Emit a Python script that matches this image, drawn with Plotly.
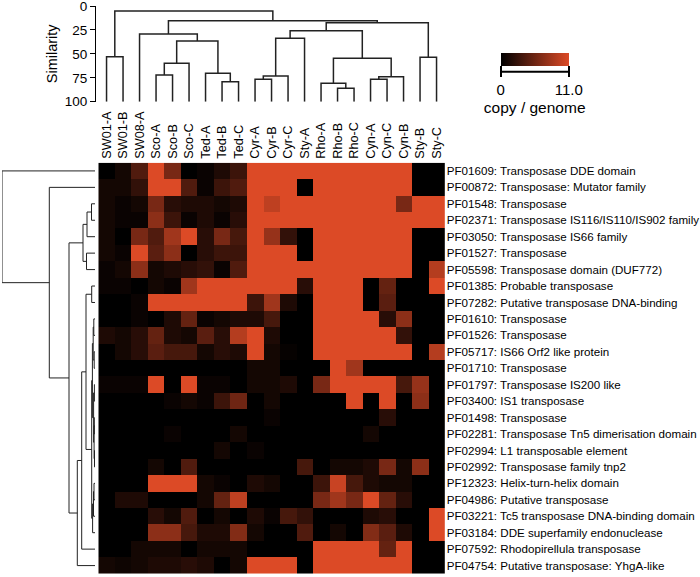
import plotly.graph_objects as go

W, H = 700, 577

columns = ["SW01-A", "SW01-B", "SW08-A", "Sco-A", "Sco-B", "Sco-C", "Ted-A", "Ted-B", "Ted-C",
           "Cyr-A", "Cyr-B", "Cyr-C", "Sty-A", "Rho-A", "Rho-B", "Rho-C", "Cyn-A", "Cyn-C", "Cyn-B",
           "Sty-B", "Sty-C"]

rows = ["PF01609: Transposase DDE domain",
        "PF00872: Transposase: Mutator family",
        "PF01548: Transposase",
        "PF02371: Transposase IS116/IS110/IS902 family",
        "PF03050: Transposase IS66 family",
        "PF01527: Transposase",
        "PF05598: Transposase domain (DUF772)",
        "PF01385: Probable transposase",
        "PF07282: Putative transposase DNA-binding",
        "PF01610: Transposase",
        "PF01526: Transposase",
        "PF05717: IS66 Orf2 like protein",
        "PF01710: Transposase",
        "PF01797: Transposase IS200 like",
        "PF03400: IS1 transposase",
        "PF01498: Transposase",
        "PF02281: Transposase Tn5 dimerisation domain",
        "PF02994: L1 transposable element",
        "PF02992: Transposase family tnp2",
        "PF12323: Helix-turn-helix domain",
        "PF04986: Putative transposase",
        "PF03221: Tc5 transposase DNA-binding domain",
        "PF03184: DDE superfamily endonuclease",
        "PF07592: Rhodopirellula transposase",
        "PF04754: Putative transposase: YhgA-like"]

# copy / genome values (rows x columns)
copies = [
    [0, 1, 4, 11, 6, 0, 0.5, 1.5, 3, 11, 11, 11, 11, 11, 11, 11, 11, 11, 11, 0, 0],
    [1, 1, 2.5, 11, 11, 4, 0.5, 3, 4, 11, 11, 11, 0, 11, 11, 11, 11, 11, 11, 0, 0],
    [1, 0.5, 1, 6, 2, 1.5, 1.5, 1, 1.5, 11, 9.5, 11, 11, 11, 11, 11, 11, 11, 6, 11, 11],
    [1, 0.5, 0.5, 7, 3, 0.5, 1.5, 0.5, 2, 11, 11, 11, 11, 11, 11, 11, 11, 11, 11, 11, 11],
    [1, 0, 6, 4, 8, 11, 2, 6, 3.5, 11, 7.5, 2.5, 0, 11, 11, 11, 11, 11, 11, 0, 0],
    [1, 0.5, 11, 4.5, 7, 0, 2, 3, 3, 11, 11, 11, 0, 11, 11, 11, 11, 11, 11, 0, 0],
    [0.5, 1, 7, 1, 1.5, 2, 2.5, 0.5, 4, 11, 11, 11, 11, 11, 11, 11, 11, 11, 11, 0, 9],
    [0.5, 0.5, 0, 1, 0.5, 8, 11, 11, 11, 11, 11, 11, 2, 11, 11, 11, 0, 5, 0, 0, 11],
    [0, 0, 0.5, 11, 11, 11, 11, 11, 11, 3, 8, 1.5, 0, 11, 11, 11, 0, 4.5, 0, 0, 0],
    [0, 0, 0.5, 0, 1.5, 5, 0.5, 1, 1.5, 1.5, 3.5, 0, 0, 11, 11, 11, 11, 2, 7, 0, 0],
    [1.5, 1, 2, 5, 1.5, 1, 4.5, 2, 9, 11, 1.5, 0, 0, 11, 11, 11, 11, 11, 2.5, 0, 0],
    [0, 1, 2, 4.5, 3.5, 3.5, 1, 2, 1.5, 11, 1, 0.3, 0, 11, 11, 11, 11, 11, 11, 0, 9],
    [0, 0, 0, 0, 0, 0, 0, 0, 0, 1, 1, 0, 0, 0, 11, 8, 0, 0, 0, 0, 0],
    [0.5, 0.5, 0.5, 11, 0, 11, 0.5, 0.5, 0, 1, 1, 1.5, 0, 6, 11, 11, 11, 11, 3.5, 7.5, 0],
    [0, 0, 0, 0, 0.5, 1, 0.5, 3, 5.5, 0, 1, 0, 0, 0, 0, 11, 0, 11, 0, 7, 0],
    [0, 0, 0, 0, 0, 0, 0, 0, 0, 0, 0.5, 0, 0, 0, 0, 0, 0, 2, 0, 0, 0],
    [0, 0, 0, 0, 0.5, 0, 0, 0, 1, 0, 0, 0, 0, 0, 0, 0, 1, 0, 0, 0, 0],
    [0, 0, 0, 0, 0, 0, 0, 1, 0, 0.5, 0, 0, 0, 0, 0, 0, 0, 0, 0, 0, 0],
    [0, 0, 0, 1, 0, 4, 0, 0, 0, 0, 0, 0, 3.5, 0, 1, 1, 1.5, 6, 1, 7, 0],
    [0, 0, 0, 11, 11, 11, 1, 0.5, 0, 1.5, 1, 0, 0, 3, 10, 3.5, 1.5, 1, 1, 0, 0],
    [0, 1.5, 1.5, 0, 0, 0, 1, 5, 9.5, 0, 0, 0, 0, 6, 8, 6, 11, 5, 2, 0, 0],
    [0, 0, 0, 2, 1, 4, 0, 1, 0, 1.5, 0.5, 3.5, 2.5, 0, 0, 0, 1.5, 2, 0, 0, 11],
    [0, 0, 0, 7, 7, 3.5, 1.5, 1.5, 6.5, 1, 0, 0, 4, 0, 1, 0, 6.5, 4.5, 1.5, 0, 11],
    [0, 0, 1, 1, 1, 0, 1, 1, 1, 0, 0, 0, 0, 11, 11, 11, 11, 5, 11, 0, 0],
    [1, 0.7, 1, 1.5, 1.5, 2, 1.5, 0, 1, 11, 11, 11, 0, 11, 11, 11, 11, 11, 11, 0, 0],
]

# Column clustering: (left, right, similarity); ints = leaf index, "mN" = earlier merge
col_merges = [
    (0, 1, 53.0),          # m0
    (3, 4, 72.1),          # m1
    ("m1", 5, 59.9),       # m2
    (7, 8, 79.1),          # m3
    (6, "m3", 70.3),       # m4
    ("m2", "m4", 36.6),    # m5
    (2, "m5", 29.3),       # m6
    (9, 10, 76.6),         # m7
    ("m7", 11, 73.1),      # m8
    ("m8", 12, 33.8),      # m9
    (14, 15, 86.0),        # m10
    (13, "m10", 80.8),     # m11
    (16, 17, 76.6),        # m12
    ("m12", 18, 73.9),     # m13
    ("m11", "m13", 54.7),  # m14
    ("m9", "m14", 25.8),   # m15
    (19, 20, 53.6),        # m16
    ("m15", "m16", 17.5),  # m17
    ("m6", "m17", 15.4),   # m18
    ("m0", "m18", 5.2),    # m19
]
col_leaf_height = 100.0

# Row clustering: (top, bottom, distance)
row_merges = [
    (2, 3, 3.5),           # m0
    ("m0", 4, 8.0),        # m1
    (5, 6, 8.5),           # m2
    ("m1", "m2", 12.0),    # m3
    (7, 8, 3.3),           # m4
    (9, 10, 1.2),          # m5
    (11, 12, 0.8),         # m6
    ("m5", "m6", 1.8),     # m7
    (13, 14, 0.6),         # m8
    (15, 16, 0.3),         # m9
    (17, 18, 0.5),         # m10
    ("m9", "m10", 0.9),    # m11
    ("m8", "m11", 1.4),    # m12
    ("m7", "m12", 2.6),    # m13
    (19, 20, 1.0),         # m14
    ("m14", 21, 1.5),      # m15
    ("m15", 22, 2.4),      # m16
    ("m13", "m16", 3.3),   # m17
    ("m4", "m17", 9.0),    # m18
    ("m18", 23, 13.3),     # m19
    ("m19", 24, 17.7),     # m20
    ("m3", "m20", 26.0),   # m21
    (1, "m21", 45.7),      # m22
    (0, "m22", 93.0),      # m23
]
row_leaf_height = 0.0


def dendro_segments(merges, leaf_h):
    pos, hgt = {}, {}
    ps, hs = [], []

    def get(k):
        if isinstance(k, int):
            return float(k), leaf_h
        return pos[k], hgt[k]

    for i, (a, b, h) in enumerate(merges):
        pa, ha = get(a)
        pb, hb = get(b)
        ps += [pa, pa, pb, pb, None]
        hs += [ha, h, h, hb, None]
        pos["m%d" % i] = (pa + pb) / 2
        hgt["m%d" % i] = h
    return ps, hs


FONT = "Liberation Sans, Arial, sans-serif"

def px(x):
    return x / W

def py(y):
    return 1 - y / H

hm_x0, hm_x1 = 98.3, 444.8
hm_y0, hm_y1 = 162.7, 573.8

fig = go.Figure()

fig.add_trace(go.Heatmap(
    z=copies, x=list(range(len(columns))), y=list(range(len(rows))),
    colorscale=[[0, "#000000"], [1, "#DC4A26"]], zmin=0, zmax=11,
    xaxis="x", yaxis="y", hoverinfo="skip",
    colorbar=dict(
        orientation="h", x=px(534.7), xanchor="center", y=py(53.3), yanchor="top",
        lenmode="pixels", len=68, thicknessmode="pixels", thickness=13.4,
        xpad=0, ypad=0, outlinewidth=0,
        tickmode="array", tickvals=[0, 11], ticktext=["0", "11.0"],
        ticks="outside", ticklen=11, tickwidth=1.5, tickcolor="#000",
        tickfont=dict(family=FONT, size=15, color="#000"),
        title=dict(text="copy / genome", side="bottom",
                   font=dict(family=FONT, size=15.5, color="#000")),
    ),
))

cx, cy = dendro_segments(col_merges, col_leaf_height)
fig.add_trace(go.Scatter(x=cx, y=cy, mode="lines", xaxis="x", yaxis="y2",
                         line=dict(color="#222", width=1.5), hoverinfo="skip",
                         showlegend=False))

ry, rx = dendro_segments(row_merges, row_leaf_height)
fig.add_trace(go.Scatter(x=rx, y=ry, mode="lines", xaxis="x2", yaxis="y",
                         line=dict(color="#222", width=1), hoverinfo="skip",
                         showlegend=False))

fig.update_layout(
    width=W, height=H, margin=dict(l=0, r=0, t=0, b=0, autoexpand=False),
    paper_bgcolor="white", plot_bgcolor="rgba(0,0,0,0)", showlegend=False,
    font=dict(family=FONT, color="#000"),
    xaxis=dict(domain=[px(hm_x0), px(hm_x1)], range=[-0.5, len(columns) - 0.5],
               anchor="y", side="top", tickmode="array", automargin=False,
               tickvals=list(range(len(columns))), ticktext=columns, tickangle=-90,
               ticks="", showgrid=False, zeroline=False, showline=False,
               tickfont=dict(family=FONT, size=12.7, color="#000"),
               ticklabelstandoff=3, ticklabeloverflow="allow"),
    yaxis=dict(domain=[py(hm_y1), py(hm_y0)], range=[len(rows) - 0.5, -0.5],
               anchor="x", side="right", tickmode="array", automargin=False,
               tickvals=list(range(len(rows))), ticktext=rows,
               ticks="", showgrid=False, zeroline=False, showline=False,
               tickfont=dict(family=FONT, size=11.6, color="#000"),
               ticklabelstandoff=1, ticklabeloverflow="allow"),
    xaxis2=dict(domain=[px(2), px(95)], range=[93, 0], anchor="y", visible=False,
                automargin=False),
    yaxis2=dict(domain=[py(101.7), py(6)], range=[100, 0], anchor="free",
                position=px(95), side="left", tickmode="array", automargin=False,
                tickvals=[0, 25, 50, 75, 100], ticks="outside", ticklen=5,
                tickcolor="#000", showline=True, linecolor="#000", linewidth=1,
                showgrid=False, zeroline=False, ticklabeloverflow="allow",
                tickfont=dict(family=FONT, size=13.5, color="#000"),
                title=dict(text="Similarity", standoff=2,
                           font=dict(family=FONT, size=14.5, color="#000"))),
    shapes=[dict(type="line", xref="paper", yref="paper",
                 x0=px(500.7), x1=px(568.7), y0=py(71.7), y1=py(71.7),
                 line=dict(color="#000", width=2))],
)

fig.write_html("out.html", config={"displayModeBar": False},
               post_script="document.body.style.margin='0';document.body.style.padding='0';")
